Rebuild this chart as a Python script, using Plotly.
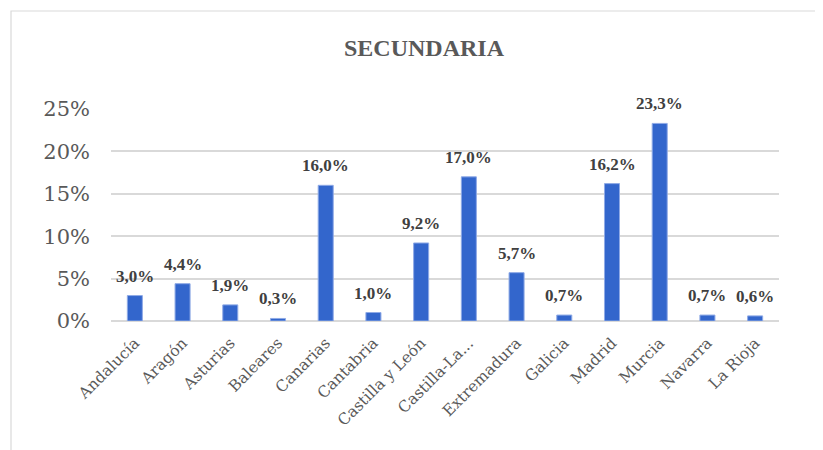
import plotly.graph_objects as go

categories = ["Andalucía", "Aragón", "Asturias", "Baleares", "Canarias", "Cantabria",
              "Castilla y León", "Castilla-La...", "Extremadura", "Galicia", "Madrid",
              "Murcia", "Navarra", "La Rioja"]
values = [3.0, 4.4, 1.9, 0.3, 16.0, 1.0, 9.2, 17.0, 5.7, 0.7, 16.2, 23.3, 0.7, 0.6]
labels = ["3,0%", "4,4%", "1,9%", "0,3%", "16,0%", "1,0%", "9,2%", "17,0%", "5,7%",
          "0,7%", "16,2%", "23,3%", "0,7%", "0,6%"]
y_ticks = [0, 5, 10, 15, 20, 25]
y_tick_text = ["0%", "5%", "10%", "15%", "20%", "25%"]

# page body has an ~8px default margin; compensate
OFF = 8
W, H = 823 - OFF, 450 - OFF
L, T = 111 - OFF, 109 - OFF
R = W - (779 - OFF)
B = H - (321 - OFF)

fig = go.Figure()
fig.add_trace(go.Bar(
    x=categories, y=values,
    marker=dict(color="#3366CC", line=dict(color="#8FAAE6", width=1)),
    hoverinfo="skip",
))

for c, v, t in zip(categories, values, labels):
    fig.add_annotation(x=c, y=v, text="<b>%s</b>" % t, showarrow=False,
                       yanchor="bottom", yshift=8,
                       font=dict(family="Liberation Serif", size=17, color="#404040"))

pw = W - L - R
ph = H - T - B
def px2x(px):
    return (px - OFF - L) / pw
def py2y(py):
    return (H - B - (py - OFF)) / ph

fig.add_shape(type="rect", xref="paper", yref="paper",
              x0=px2x(11), x1=px2x(840), y0=py2y(11), y1=py2y(470),
              line=dict(color="#D9D9D9", width=1.2), fillcolor="rgba(0,0,0,0)", layer="below")

fig.update_layout(
    width=W, height=H,
    margin=dict(l=L, r=R, t=T, b=B, autoexpand=False),
    paper_bgcolor="white", plot_bgcolor="white",
    bargap=0.685,
    showlegend=False,
    title=dict(text="<b>SECUNDARIA</b>", x=(424 - OFF) / W, xanchor="center",
               y=1 - (48 - OFF) / H, yanchor="middle",
               font=dict(family="Liberation Serif", size=24, color="#595959")),
    xaxis=dict(tickangle=-45, showgrid=False, showline=False, ticks="",
               ticklabelstandoff=9,
               tickfont=dict(family="DejaVu Serif", size=15.5, color="#595959")),
    yaxis=dict(range=[0, 25], tickvals=y_ticks, ticktext=y_tick_text,
               showgrid=True, gridcolor="#D9D9D9", gridwidth=1.5,
               zeroline=True, zerolinecolor="#D9D9D9", zerolinewidth=1.5,
               showline=False, ticks="", ticklabelstandoff=20,
               tickfont=dict(family="DejaVu Serif", size=21, color="#595959")),
)

fig.write_html("out.html")
